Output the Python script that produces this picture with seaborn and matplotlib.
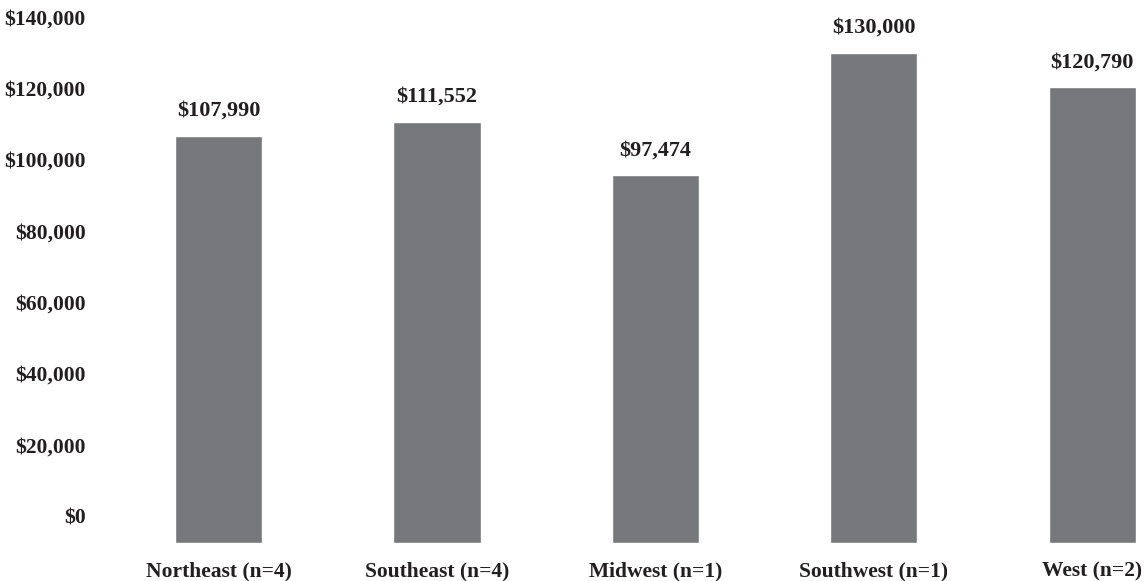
import numpy as np
import pandas as pd
import matplotlib
matplotlib.use("Agg")
import matplotlib.pyplot as plt
import seaborn as sns
from matplotlib.ticker import FuncFormatter

# Data
regions = ["Northeast (n=4)", "Southeast (n=4)", "Midwest (n=1)", "Southwest (n=1)", "West (n=2)"]
salaries = [107990, 111552, 97474, 130000, 120790]
tick_values = list(range(0, 140001, 20000))

df = pd.DataFrame({"Region": regions, "Salary": salaries})

sns.set_theme(style="white")
plt.rcParams["font.family"] = ["Liberation Serif", "DejaVu Serif"]
plt.rcParams["font.weight"] = "bold"
text_color = "#231f20"

fig = plt.figure(figsize=(11.46, 5.81), dpi=100)

# the dollar scale in the source sits a little above the bar baseline,
# so it lives on its own (invisible) axes
scale_ax = fig.add_axes([0.105, 0.1119, 0.89, 0.8589])
scale_ax.set_ylim(0, 140000)
scale_ax.set_yticks(tick_values)
scale_ax.yaxis.set_major_formatter(FuncFormatter(lambda v, p: f"${v:,.0f}"))
scale_ax.set_xticks([])
scale_ax.patch.set_visible(False)
for s in scale_ax.spines.values():
    s.set_visible(False)
scale_ax.tick_params(axis="y", length=0, pad=25, labelsize=15.5, labelcolor=text_color)
for lbl in scale_ax.get_yticklabels():
    lbl.set_fontweight("bold")

ax = fig.add_axes([0.105, 0.0654, 0.89, 0.9088])
ax.patch.set_visible(False)

sns.barplot(data=df, x="Region", y="Salary", color="#77787b", saturation=1,
            width=0.4, ax=ax)

# Value labels above the bars
for cont in ax.containers:
    ax.bar_label(cont, labels=[f"${v:,.0f}" for v in salaries], padding=11,
                 fontsize=16, fontweight="bold", color=text_color)

ax.set_ylim(0, 140000)
ax.set_yticks([])
ax.set_xlim(-0.45, 4.22)
ax.set_xlabel("")
ax.set_ylabel("")

for s in ax.spines.values():
    s.set_visible(False)
ax.tick_params(axis="x", length=0, pad=13, labelsize=15.5, labelcolor=text_color)
for lbl in ax.get_xticklabels():
    lbl.set_fontweight("bold")

fig.savefig("out.png", dpi=100)
